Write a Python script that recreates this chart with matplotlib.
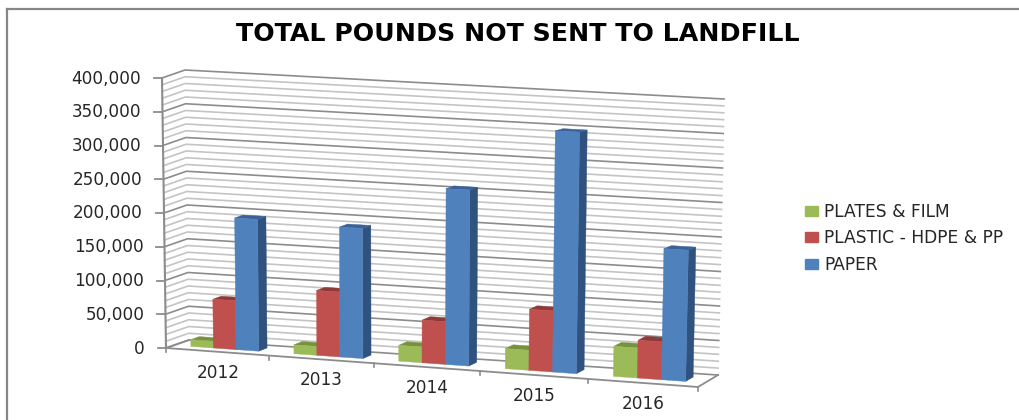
import numpy as np
import matplotlib
matplotlib.use("Agg")
import matplotlib.pyplot as plt
from matplotlib.patches import Polygon, Patch

# ---- data ----
years = ["2012", "2013", "2014", "2015", "2016"]
series_names = ["PLATES & FILM", "PLASTIC - HDPE & PP", "PAPER"]
plates = [10000, 13000, 23000, 29000, 43000]
plastic = [72000, 95000, 62000, 88000, 54000]
paper = [194000, 190000, 255000, 347000, 187000]
ymax = 400000
major_ticks = [0, 50000, 100000, 150000, 200000, 250000, 300000, 350000, 400000]
minor_step = 10000

front_cols = ["#9BBB59", "#C0504D", "#4F81BD"]
top_cols = ["#76923C", "#8E3A38", "#3A6299"]
side_cols = ["#6F8A3A", "#8A3634", "#2F527F"]

# corners of the perspective box in figure pixels: (u, d, v)
C = {
    (0, 0, 0): (166, 348), (0, 0, 1): (162, 78),
    (0, 1, 0): (189, 340), (0, 1, 1): (185, 70),
    (1, 0, 0): (698, 387), (1, 0, 1): (704, 103),
    (1, 1, 0): (718, 375), (1, 1, 1): (724, 99),
}


def proj(u, d, v):
    u = u - 0.04 * u * (1 - u)
    p = np.zeros(2)
    for a, wa in ((0, 1 - u), (1, u)):
        for b, wb in ((0, 1 - d), (1, d)):
            for c, wc in ((0, 1 - v), (1, v)):
                p += wa * wb * wc * np.array(C[(a, b, c)], float)
    return p


fig = plt.figure(figsize=(10.19, 4.2), dpi=100, facecolor="white")
ax = fig.add_axes([0, 0, 1, 1])
ax.set_xlim(0, 1019)
ax.set_ylim(420, 0)
ax.axis("off")

GRID_MAJOR = "#8c8c8c"
GRID_MINOR = "#c4c4c4"
TXT = "#262626"

# gridlines on side and back walls
for val in range(0, ymax + 1, minor_step):
    is_major = val in major_ticks
    v = val / ymax
    pts = np.array([proj(0, 0, v), proj(0, 1, v), proj(1, 1, v)])
    ax.plot(pts[:, 0], pts[:, 1], color=GRID_MAJOR if is_major else GRID_MINOR,
            lw=1.2, zorder=1, solid_joinstyle="miter")

# floor edges and value axis
floor = np.array([proj(0, 1, 0), proj(0, 0, 0), proj(1, 0, 0), proj(1, 1, 0)])
ax.plot(floor[:, 0], floor[:, 1], color=GRID_MAJOR, lw=1.3, zorder=2)
axis_line = np.array([proj(0, 0, 0), proj(0, 0, 1)])
ax.plot(axis_line[:, 0], axis_line[:, 1], color=GRID_MAJOR, lw=1.5, zorder=2)

# value ticks and labels
for val in major_ticks:
    p = proj(0, 0, val / ymax)
    ax.plot([p[0] - 8, p[0]], [p[1], p[1]], color=GRID_MAJOR, lw=1.3, zorder=2)
    ax.text(p[0] - 21, p[1] + 0.5, f"{val:,}", ha="right", va="center",
            fontsize=12.2, color=TXT, family="DejaVu Sans")

# category ticks and labels
n = len(years)
for i in range(n + 1):
    p = proj(i / n, 0, 0)
    ax.plot([p[0], p[0]], [p[1], p[1] + 4], color=GRID_MAJOR, lw=1.2, zorder=2)
for i, y in enumerate(years):
    p = proj((i + 0.5) / n, 0, 0)
    ax.text(p[0] + 0.5, p[1] + 21, y, ha="center", va="center",
            fontsize=12.2, color=TXT, family="DejaVu Sans")

# bars
values = [plates, plastic, paper]
band_start, bar_w = 0.165, 0.22
d0, d1 = 0.35, 0.72
z = 3
for i in range(n):
    for s in range(3):
        u0 = (i + band_start + s * bar_w) / n
        u1 = (i + band_start + (s + 1) * bar_w) / n
        v = values[s][i] / ymax
        top = [proj(u0, d0, v), proj(u1, d0, v), proj(u1, d1, v), proj(u0, d1, v)]
        side = [proj(u1, d0, 0), proj(u1, d1, 0), proj(u1, d1, v), proj(u1, d0, v)]
        front = [proj(u0, d0, 0), proj(u1, d0, 0), proj(u1, d0, v), proj(u0, d0, v)]
        for poly, col in ((side, side_cols[s]), (top, top_cols[s]), (front, front_cols[s])):
            ax.add_patch(Polygon(poly, closed=True, facecolor=col, edgecolor=col,
                                 lw=0.3, zorder=z))
            z += 1

# title
ax.text(518, 34, "TOTAL POUNDS NOT SENT TO LANDFILL", ha="center", va="center",
        fontsize=18.2, fontweight="bold", color="black", family="DejaVu Sans")

# legend
handles = [Patch(facecolor=c, edgecolor=c) for c in front_cols]
leg = ax.legend(handles, series_names, loc="upper left",
                bbox_to_anchor=(805 / 1019, 1 - 203 / 420), frameon=False,
                prop={"family": "DejaVu Sans", "size": 12.3},
                labelcolor=TXT, handlelength=0.76, handleheight=0.5,
                handletextpad=0.36, labelspacing=0.49, borderpad=0, borderaxespad=0)

# chart frame (only top and left survive the crop)
ax.plot([7.5, 7.5], [420, 9], color="#868686", lw=1.6, zorder=1, clip_on=False)
ax.plot([7.5, 1019], [9, 9], color="#868686", lw=1.6, zorder=1, clip_on=False)

fig.savefig("out.png", dpi=100, facecolor="white")
